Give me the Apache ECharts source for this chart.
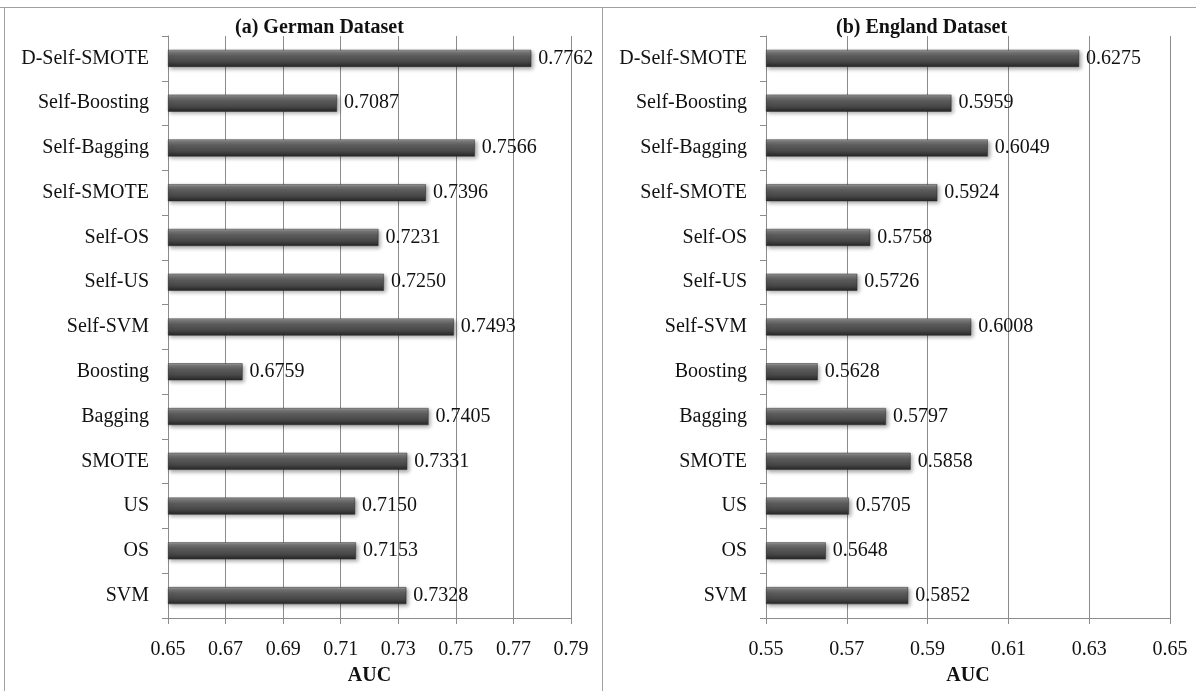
<!DOCTYPE html>
<html><head><meta charset="utf-8">
<script src="https://cdn.jsdelivr.net/npm/echarts@6/dist/echarts.min.js"></script>
<style>html,body{margin:0;padding:0;background:#fff;overflow:hidden}#c{width:1196px;height:691px}</style>
</head><body><div id="c"></div>
<script>
const categories = ['D-Self-SMOTE','Self-Boosting','Self-Bagging','Self-SMOTE','Self-OS','Self-US','Self-SVM','Boosting','Bagging','SMOTE','US','OS','SVM'];
const germanAUC = [0.7762,0.7087,0.7566,0.7396,0.7231,0.7250,0.7493,0.6759,0.7405,0.7331,0.7150,0.7153,0.7328];
const englandAUC = [0.6275,0.5959,0.6049,0.5924,0.5758,0.5726,0.6008,0.5628,0.5797,0.5858,0.5705,0.5648,0.5852];
const germanTicks = ['0.65','0.67','0.69','0.71','0.73','0.75','0.77','0.79'];
const englandTicks = ['0.55','0.57','0.59','0.61','0.63','0.65'];
const titles = ['(a) German Dataset','(b) England Dataset'];
const axisName = 'AUC';

const FONT = '"Liberation Serif", "Times New Roman", serif';
const gBase = parseFloat(germanTicks[0]), eBase = parseFloat(englandTicks[0]);
const gSpan = parseFloat(germanTicks[germanTicks.length-1]) - gBase;
const eSpan = parseFloat(englandTicks[englandTicks.length-1]) - eBase;

const barColor = new echarts.graphic.LinearGradient(0,0,0,1,[
  {offset:0,color:'#a8a8a8'},
  {offset:0.12,color:'#7a7a7a'},
  {offset:0.35,color:'#5c5c5c'},
  {offset:0.7,color:'#474747'},
  {offset:1,color:'#262626'}
]);

function valueAxis(gridIndex, base, span, ticks){
  return {
    type:'value', gridIndex, min:0, max:+span.toFixed(4), interval:0.02,
    name:axisName, nameLocation:'middle', nameGap:48,
    nameTextStyle:{fontFamily:FONT,fontSize:20,fontWeight:'bold',color:'#111'},
    axisLine:{show:true,lineStyle:{color:'#8c8c8c',width:1}},
    axisTick:{show:true,length:6,lineStyle:{color:'#8c8c8c'}},
    axisLabel:{fontFamily:FONT,fontSize:20,color:'#111',margin:22,
      formatter:(v)=>{const i=Math.round(v/0.02); return ticks[i]!==undefined?ticks[i]:(base+v).toFixed(2);}},
    splitLine:{show:true,lineStyle:{color:'#8c8c8c',width:1}}
  };
}
function catAxis(gridIndex){
  return {
    type:'category', gridIndex, data:categories, inverse:true,
    axisLine:{show:true,lineStyle:{color:'#8c8c8c'}},
    axisTick:{show:true,length:6,inside:false,lineStyle:{color:'#8c8c8c'}},
    axisLabel:{fontFamily:FONT,fontSize:20,color:'#111',margin:19}
  };
}
function barSeries(idx, vals, base){
  return {
    type:'bar', xAxisIndex:idx, yAxisIndex:idx, barWidth:17,
    data: vals.map(v=>+(v-base).toFixed(4)),
    itemStyle:{color:barColor,borderColor:'#2a2a2a',borderWidth:0.5,
      shadowColor:'rgba(0,0,0,0.35)',shadowBlur:4,shadowOffsetX:2,shadowOffsetY:2},
    label:{show:true,position:'right',distance:7,fontFamily:FONT,fontSize:20,color:'#111',
      formatter:(p)=>vals[p.dataIndex].toFixed(4)},
    animation:false
  };
}

const chart = echarts.init(document.getElementById('c'),null,{renderer:'canvas',width:1196,height:691});
chart.setOption({
  animation:false,
  title:[
    {text:titles[0],left:230,top:13,textStyle:{fontFamily:FONT,fontSize:20,fontWeight:'bold',color:'#111'}},
    {text:titles[1],left:831,top:13,textStyle:{fontFamily:FONT,fontSize:20,fontWeight:'bold',color:'#111'}}
  ],
  grid:[
    {left:168,width:403,top:36,height:585,containLabel:false},
    {left:766,width:404,top:36,height:585,containLabel:false}
  ],
  xAxis:[valueAxis(0,gBase,gSpan,germanTicks), valueAxis(1,eBase,eSpan,englandTicks)],
  yAxis:[catAxis(0),catAxis(1)],
  series:[barSeries(0,germanAUC,gBase), barSeries(1,englandAUC,eBase)],
  graphic:[
    {type:'line',shape:{x1:0,y1:7.5,x2:1196,y2:7.5},style:{stroke:'#a0a0a0',lineWidth:1}},
    {type:'line',shape:{x1:4.5,y1:7,x2:4.5,y2:691},style:{stroke:'#a0a0a0',lineWidth:1}},
    {type:'line',shape:{x1:602.5,y1:7,x2:602.5,y2:691},style:{stroke:'#a0a0a0',lineWidth:1}}
  ]
});
</script></body></html>
